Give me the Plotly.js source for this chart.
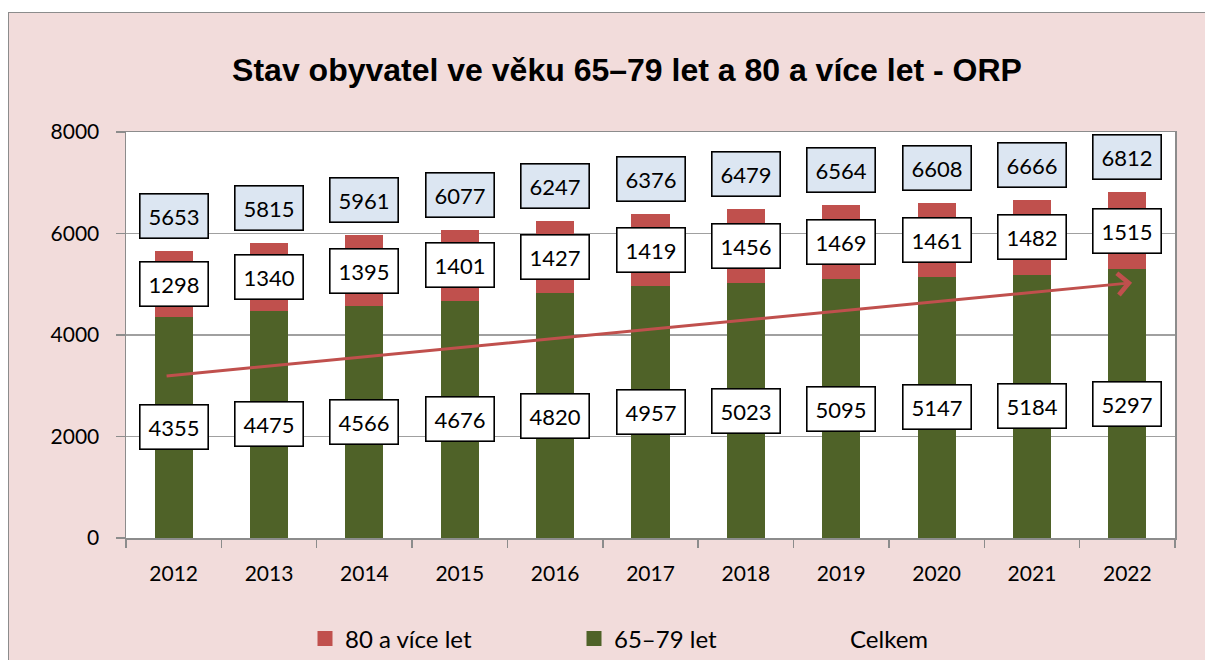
<!DOCTYPE html>
<html>
<head>
<meta charset="utf-8">
<script src="https://cdn.plot.ly/plotly-3.0.1.min.js"></script>
<style>
  html, body { margin: 0; padding: 0; background: #ffffff; width: 1205px; height: 660px; overflow: hidden; }
  #frame { position: absolute; left: 8px; top: 12px; width: 1197px; height: 648px;
           border-left: 1.5px solid #8c8c8c; border-top: 1.5px solid #8c8c8c; background: #f2dcdb; box-sizing: border-box; }
  #chart { width: 1196px; height: 647px; }
</style>
</head>
<body>
<div id="frame"><div id="chart"></div></div>
<script>
// ---- data ----
const years = ['2012','2013','2014','2015','2016','2017','2018','2019','2020','2021','2022'];
const age65to79 = [4355, 4475, 4566, 4676, 4820, 4957, 5023, 5095, 5147, 5184, 5297];
const age80plus = [1298, 1340, 1395, 1401, 1427, 1419, 1456, 1469, 1461, 1482, 1515];
const celkem = [5653, 5815, 5961, 6077, 6247, 6376, 6479, 6564, 6608, 6666, 6812];
const yTicks = [0, 2000, 4000, 6000, 8000];
const trendStart = 3190;  // trend arrow value at 2012
const trendEnd = 5030;    // trend arrow value at 2022

const GREEN = '#4f6228', RED = '#c0504d';
const FONT = 'Lato, "Open Sans", sans-serif';
const W = 1196, H = 647;

const data = [
  { type: 'bar', name: '65–79 let', x: years, y: age65to79, marker: { color: GREEN }, hoverinfo: 'skip', showlegend: false },
  { type: 'bar', name: '80 a více let', x: years, y: age80plus, marker: { color: RED }, hoverinfo: 'skip', showlegend: false },
  { type: 'scatter', mode: 'lines', name: 'Celkem', x: years, y: celkem, line: { color: 'rgba(0,0,0,0)', width: 0 },
    hoverinfo: 'skip', showlegend: true, legend: 'legend3' },
  // legend keys for the bar series
  { type: 'scatter', mode: 'markers', name: '80 a více let', x: [null], y: [null],
    marker: { symbol: 'square', size: 15, color: RED }, showlegend: true, legend: 'legend' },
  { type: 'scatter', mode: 'markers', name: '65–79 let', x: [null], y: [null],
    marker: { symbol: 'square', size: 15, color: GREEN }, showlegend: true, legend: 'legend2' }
];

const annotations = [];
years.forEach((yr, i) => {
  const base = { x: i, xref: 'x', yref: 'y', showarrow: false, font: { family: FONT, size: 22, color: '#000' },
                 bordercolor: '#000', borderwidth: 1.6, borderpad: 8 };
  annotations.push(Object.assign({}, base, { y: age65to79[i] / 2, text: String(age65to79[i]), bgcolor: '#ffffff' }));
  annotations.push(Object.assign({}, base, { y: age65to79[i] + age80plus[i] / 2, text: String(age80plus[i]), bgcolor: '#ffffff' }));
  annotations.push(Object.assign({}, base, { y: celkem[i], yshift: 35, text: String(celkem[i]), bgcolor: '#dce6f2' }));
});
// trend arrow
annotations.push({
  x: years.length - 1 + 0.05, y: trendEnd, xref: 'x', yref: 'y',
  ax: -0.09, ay: trendStart, axref: 'x', ayref: 'y',
  showarrow: true, arrowhead: 4, arrowsize: 1.4, arrowwidth: 3, arrowcolor: RED, text: ''
});

const legBase = { orientation: 'h', xref: 'container', yref: 'container', xanchor: 'left', yanchor: 'middle',
                  y: 21 / H, font: { family: FONT, size: 24, color: '#000' }, bgcolor: 'rgba(0,0,0,0)', itemwidth: 30 };

const layout = {
  width: W, height: H,
  paper_bgcolor: '#f2dcdb', plot_bgcolor: '#ffffff',
  margin: { l: 117, r: 30, t: 119, b: 122 },
  barmode: 'stack', bargap: 0.6,
  title: { text: '<b>Stav obyvatel ve věku 65–79 let a 80 a více let - ORP</b>',
           font: { family: '"Liberation Sans", Arial, sans-serif', size: 32, color: '#000' },
           xref: 'container', yref: 'container', x: 618 / W, xanchor: 'center', y: 1 - 57 / H, yanchor: 'middle' },
  xaxis: { type: 'category', range: [-0.5, years.length - 0.5], showgrid: false, showline: true, linecolor: '#8c8c8c', linewidth: 1.5, mirror: true,
           ticks: 'outside', tickson: 'boundaries', ticklen: 8, tickcolor: '#8c8c8c', tickwidth: 1.5, tickangle: 0,
           ticklabelstandoff: 16, tickfont: { family: FONT, size: 21, color: '#000' }, fixedrange: true },
  yaxis: { range: [0, 8000], tickvals: yTicks, ticktext: yTicks.map(String), showgrid: true, gridcolor: '#a0a0a0', gridwidth: 1.3,
           showline: true, linecolor: '#8c8c8c', linewidth: 1.5, mirror: true, zeroline: false,
           ticks: 'outside', ticklen: 9, tickcolor: '#8c8c8c', tickwidth: 1.5,
           ticklabelstandoff: 12, tickfont: { family: FONT, size: 21, color: '#000' }, fixedrange: true },
  showlegend: true,
  legend: Object.assign({}, legBase, { x: (305 - 9) / W }),
  legend2: Object.assign({}, legBase, { x: (574 - 9) / W }),
  legend3: Object.assign({}, legBase, { x: (810 - 9) / W }),
  annotations: annotations
};

Plotly.newPlot('chart', data, layout, { displayModeBar: false, staticPlot: true });
</script>
</body>
</html>
